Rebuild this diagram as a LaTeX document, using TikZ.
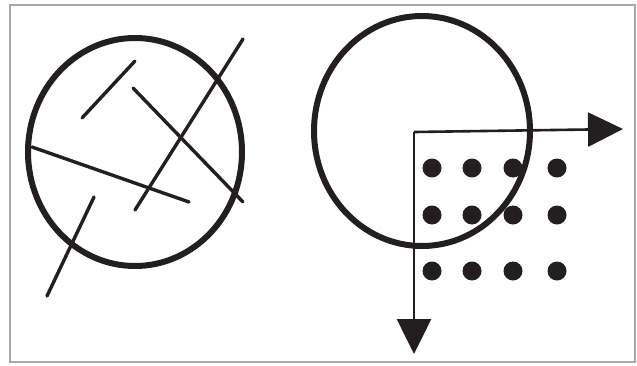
\documentclass[tikz,border=0pt]{standalone}
\usepackage{xcolor}
\usetikzlibrary{arrows.meta}
\definecolor{inkBlack}{HTML}{231F20}
\definecolor{frameGray}{HTML}{A8A8A8}
\tikzset{
  rim/.style={draw=inkBlack,line width=3pt},
  stroke/.style={draw=inkBlack,line width=1.7pt,line cap=round},
  axis/.style={draw=inkBlack,line width=1.3pt,
    -{Triangle[length=17.5pt,width=17pt]}},
  dot/.style={fill=inkBlack}
}
\begin{document}
\begin{tikzpicture}[x=0.5pt,y=-0.5pt]
  \useasboundingbox (0,0) rectangle (637,365);
  \draw[frameGray,line width=0.9pt] (10,5) rectangle (635,362);

  % left: circle crossed by segments
  \draw[rim] (135,152) ellipse [x radius=107,y radius=114];
  \draw[stroke] (135,61) -- (82,118);
  \draw[stroke] (133,88) -- (243,202);
  \draw[stroke] (243,39) -- (135,210);
  \draw[stroke] (32,147) -- (189,202);
  \draw[stroke] (94,197) -- (47,296);

  % right: circle over a grid of points
  \draw[rim] (422,131) ellipse [x radius=108,y radius=115];
  \coordinate (origin) at (414,132);
  \coordinate (xend) at (623,129);
  \coordinate (yend) at (414,354);
  \draw[axis] (origin) -- (xend);
  \draw[axis] (origin) -- (yend);
  \foreach \y in {168,215,271}
    \foreach \x in {432,472,513,557}
      \fill[dot] (\x,\y) circle [radius=9.5];
\end{tikzpicture}
\end{document}
